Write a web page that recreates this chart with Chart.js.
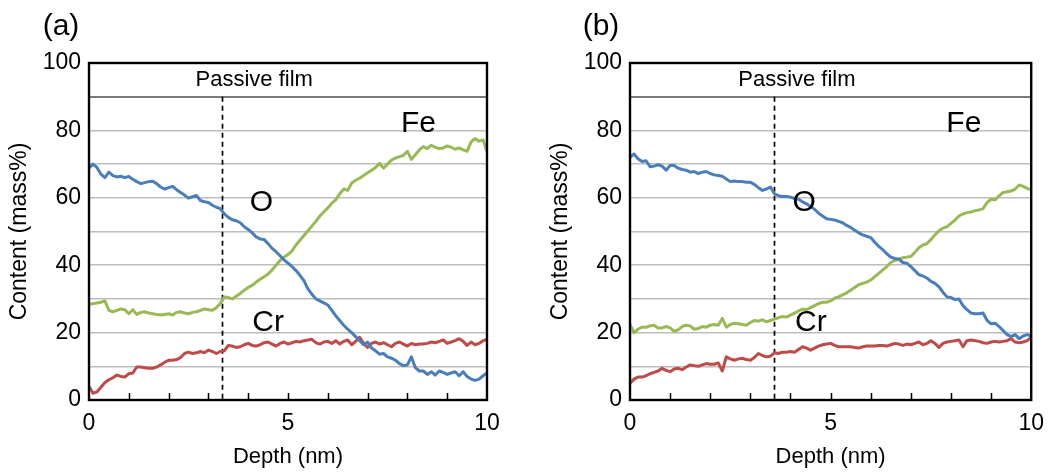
<!DOCTYPE html>
<html><head><meta charset="utf-8">
<script src="https://cdn.jsdelivr.net/npm/chart.js@4.4.1/dist/chart.umd.min.js"></script>
<style>
html,body{margin:0;padding:0;background:#fff;}
#wrap{position:relative;width:1054px;height:474px;overflow:hidden;}
.panel{position:absolute;top:0;width:527px;height:474px;}
#pa{left:0}#pb{left:527px}
</style></head><body>
<div id="wrap">
<div class="panel" id="pa"><canvas id="ca" width="527" height="474"></canvas></div>
<div class="panel" id="pb"><canvas id="cb" width="527" height="474"></canvas></div>
</div>
<script>
// ---- data ----
const depth = [0.0,0.1,0.2,0.3,0.4,0.5,0.6,0.7,0.8,0.9,
1.0,1.1,1.2,1.3,1.4,1.5,1.6,1.7,1.8,1.9,
2.0,2.1,2.2,2.3,2.4,2.5,2.6,2.7,2.8,2.9,
3.0,3.1,3.2,3.3,3.4,3.5,3.6,3.7,3.8,3.9,
4.0,4.1,4.2,4.3,4.4,4.5,4.6,4.7,4.8,4.9,
5.0,5.1,5.2,5.3,5.4,5.5,5.6,5.7,5.8,5.9,
6.0,6.1,6.2,6.3,6.4,6.5,6.6,6.7,6.8,6.9,
7.0,7.1,7.2,7.3,7.4,7.5,7.6,7.7,7.8,7.9,
8.0,8.1,8.2,8.3,8.4,8.5,8.6,8.7,8.8,8.9,
9.0,9.1,9.2,9.3,9.4,9.5,9.6,9.7,9.8,9.9,
10.0];

const oxygenA = [68.8,70.0,69.0,67.0,66.0,67.6,66.6,66.2,66.4,66.0,
66.3,65.5,64.8,64.2,64.5,64.8,64.9,64.2,63.2,62.6,
63.0,63.4,62.4,61.6,60.8,59.9,60.3,60.7,59.2,58.8,
58.6,57.8,57.2,56.8,55.2,54.2,53.5,53.2,52.6,51.4,
50.6,49.6,48.4,47.8,47.6,46.4,45.0,44.0,42.8,41.6,
40.6,39.6,38.4,37.0,35.4,33.0,31.4,30.0,29.4,28.8,
28.2,26.6,25.0,23.6,22.2,21.0,20.0,18.8,17.6,16.4,
17.2,15.4,14.6,13.6,13.8,12.8,12.4,11.8,10.8,10.2,
10.4,12.8,9.6,8.6,8.6,7.6,8.4,7.4,8.6,8.2,
7.6,8.0,8.4,7.2,8.4,7.0,6.2,5.8,6.2,7.2,
8.0];

const ironA = [28.4,28.6,28.8,29.0,29.4,26.6,26.2,26.6,27.0,26.8,
25.6,26.8,25.4,26.0,26.2,25.8,25.6,25.4,25.2,25.4,
25.6,25.2,26.0,26.2,25.8,25.6,26.0,26.2,26.6,27.0,
26.8,26.6,27.4,28.6,30.6,30.4,30.0,30.8,31.6,32.6,
33.4,34.0,35.0,35.8,36.6,37.4,38.6,40.0,41.4,42.4,
43.2,44.2,46.0,47.4,48.8,50.2,51.6,53.0,54.6,55.8,
57.0,58.4,59.4,61.2,62.6,62.2,64.4,65.2,65.8,66.6,
67.4,68.2,69.0,70.2,68.8,70.0,71.2,71.8,72.2,72.6,
73.8,71.4,72.8,74.2,75.2,74.6,75.6,75.0,74.6,74.8,
75.4,75.0,74.4,74.8,74.2,73.8,76.6,77.6,76.8,77.2,
73.8];

const chromiumA = [4.0,2.0,2.4,3.8,5.2,6.0,6.6,7.4,7.0,6.8,
7.8,8.0,9.8,9.8,9.6,9.4,9.4,9.8,10.4,11.2,
11.8,11.8,12.0,12.6,13.8,14.2,13.8,14.0,14.4,14.0,
14.8,14.4,13.8,14.4,14.6,16.2,16.0,15.6,15.8,16.4,
16.8,16.2,16.0,16.4,17.0,17.2,16.6,16.0,16.8,17.2,
16.6,17.0,17.4,17.2,17.6,17.8,18.0,17.0,16.6,17.2,
17.4,16.8,17.6,16.6,17.4,17.8,16.4,17.4,18.6,16.8,
15.6,16.8,17.2,16.6,17.0,16.4,15.8,16.8,17.2,16.6,
16.0,16.8,16.4,16.6,16.6,16.8,17.2,17.0,17.4,17.8,
16.8,17.2,17.6,18.2,17.4,16.2,17.2,16.4,16.8,17.6,
18.0];

const oxygenB = [72.0,73.0,71.6,70.8,71.0,69.2,69.4,69.8,69.4,68.2,
69.6,69.6,68.8,68.4,68.2,67.6,67.8,67.2,67.6,67.8,
67.2,66.8,66.6,66.4,65.6,64.8,65.0,64.8,64.8,64.6,
64.6,64.0,63.0,62.2,62.6,63.2,61.2,60.6,60.4,60.4,
60.2,59.8,59.6,58.8,58.2,57.4,56.6,55.4,54.6,53.8,
53.6,53.4,53.0,52.6,51.8,51.2,50.4,49.6,49.0,48.6,
48.2,46.8,45.6,44.6,43.4,42.4,42.0,41.8,40.8,40.6,
39.6,38.4,37.2,36.8,36.2,35.2,34.6,33.6,32.0,30.6,
30.4,29.8,30.0,28.0,26.8,25.8,25.6,25.6,25.8,23.6,
22.6,22.8,21.8,20.6,19.4,18.8,19.4,18.2,19.0,19.4,
19.0];

const ironB = [22.4,20.0,21.0,21.6,21.6,22.0,22.2,21.4,21.4,21.8,
21.4,20.4,20.8,21.8,22.2,22.0,21.0,21.2,21.8,21.6,
22.2,22.4,22.2,24.2,21.6,22.4,22.8,22.6,22.4,22.2,
23.0,23.6,23.4,23.8,23.2,23.6,24.0,24.4,24.8,24.6,
25.2,25.8,26.4,27.0,26.8,27.4,28.0,28.6,29.0,29.0,
29.4,30.2,30.6,31.2,31.8,32.6,33.4,34.2,34.6,35.0,
35.6,36.6,37.6,38.6,39.6,40.8,41.4,41.8,42.2,42.4,
42.6,43.8,45.2,46.0,46.4,47.6,49.0,50.2,51.0,51.4,
52.4,53.4,54.6,55.2,55.6,55.8,56.2,56.4,56.8,58.6,
59.6,59.4,60.6,61.6,61.8,62.0,62.6,63.8,63.4,62.8,
62.4];

const chromiumB = [5.0,6.2,6.8,6.8,7.2,7.8,8.2,8.6,9.4,8.8,
8.4,9.2,9.4,9.0,9.8,10.4,10.2,10.0,10.4,10.8,
10.6,10.6,11.0,8.6,12.8,12.2,11.8,12.2,12.4,12.0,
11.8,12.6,13.8,13.2,12.8,13.0,14.0,13.8,14.2,14.2,
14.4,14.2,15.0,15.8,15.4,14.8,15.4,16.0,16.4,16.6,
16.8,16.2,15.8,15.8,15.8,15.8,15.6,15.4,15.8,16.0,
16.0,16.0,16.2,16.2,16.0,16.4,16.8,16.6,16.2,16.6,
16.4,16.8,17.2,16.4,16.8,17.6,16.8,15.6,16.8,17.2,
17.4,17.6,17.8,15.8,17.6,17.8,17.6,17.4,17.0,16.8,
17.2,17.4,17.2,17.4,17.6,18.2,17.2,17.0,17.2,17.6,
18.6];

const seriesNames = ['O','Fe','Cr'];
const yTickValues = [0,20,40,60,80,100];
const xTickValues = [0,5,10];
const filmBoundaryA = 3.35;   // nm, dashed line in (a)
const filmBoundaryB = 3.6;    // nm, dashed line in (b)
const filmTopContent = 90;    // mass%, passive-film band line

// ---- styling / layout ----
const FONT = '"Liberation Sans", Arial, Helvetica, sans-serif';
const COLORS = {O:'#4a7ebb', Fe:'#98b954', Cr:'#be4b48'};
Chart.defaults.font.family = FONT;
Chart.defaults.color = '#000';

const labelsA = [
  {text:'Passive film', x:4.15, y:95, size:22},
  {text:'Fe', x:8.28, y:82, size:30},
  {text:'O',  x:4.33, y:58.5, size:30},
  {text:'Cr', x:4.5,  y:23, size:30}
];
const labelsB = [
  {text:'Passive film', x:4.16, y:95, size:22},
  {text:'Fe', x:8.32, y:82, size:30},
  {text:'O',  x:4.34, y:58.5, size:30},
  {text:'Cr', x:4.51, y:23, size:30}
];

const decorPlugin = {
  id: 'decor',
  beforeDatasetsDraw(chart, args, o) {
    const {ctx, scales:{x, y}} = chart;
    ctx.save();
    ctx.strokeStyle = '#000';
    ctx.lineWidth = 1.7;
    ctx.setLineDash([5,4]);
    const px = Math.round(x.getPixelForValue(o.boundary)) + 0.5;
    ctx.beginPath();
    ctx.moveTo(px, y.getPixelForValue(filmTopContent));
    ctx.lineTo(px, y.getPixelForValue(0));
    ctx.stroke();
    ctx.restore();
  },
  afterDatasetsDraw(chart, args, o) {
    const {ctx, chartArea:a, scales:{x, y}} = chart;
    ctx.save();
    ctx.strokeStyle = '#000';
    ctx.lineWidth = 1.5;
    x.ticks.forEach(t => {
      if (t.value > x.min && t.value < x.max) {
        const p = Math.round(x.getPixelForValue(t.value)) + 0.5;
        ctx.beginPath();
        ctx.moveTo(p, a.bottom);
        ctx.lineTo(p, a.bottom - 7);
        ctx.stroke();
      }
    });
    ctx.lineWidth = 2.4;
    ctx.strokeRect(a.left, a.top, a.right - a.left, a.bottom - a.top);
    ctx.fillStyle = '#000';
    ctx.textAlign = 'center';
    ctx.textBaseline = 'middle';
    o.labels.forEach(l => {
      ctx.font = l.size + 'px ' + FONT;
      ctx.fillText(l.text, x.getPixelForValue(l.x), y.getPixelForValue(l.y));
    });
    ctx.font = '30px ' + FONT;
    ctx.fillText(o.tag, o.tagX, o.tagY);
    ctx.restore();
  }
};

function makeChart(canvasId, oVals, feVals, crVals, cfg) {
  const mk = (vals) => depth.map((d, i) => ({x: d, y: vals[i]}));
  const ds = (name, vals) => ({
    label: name, data: mk(vals), borderColor: COLORS[name], backgroundColor: COLORS[name],
    borderWidth: 3, pointRadius: 0, tension: 0, borderJoinStyle: 'round', fill: false
  });
  return new Chart(document.getElementById(canvasId), {
    type: 'line',
    data: { datasets: [ds('O', oVals), ds('Fe', feVals), ds('Cr', crVals)] },
    options: {
      responsive: false, animation: false, devicePixelRatio: 1,
      layout: { padding: {left: cfg.padLeft, right: cfg.padRight, top: 63, bottom: 0} },
      plugins: {
        legend: {display: false}, tooltip: {enabled: false},
        decor: {boundary: cfg.boundary, labels: cfg.labels, tag: cfg.tag, tagX: cfg.tagX, tagY: 27}
      },
      scales: {
        x: {
          type: 'linear', min: 0, max: 10,
          border: {display: false},
          grid: {display: false, drawTicks: false},
          ticks: {
            stepSize: 1, autoSkip: false, maxRotation: 0, padding: 10,
            font: {size: 23},
            callback: v => xTickValues.includes(v) ? String(v) : ''
          },
          title: {display: true, text: 'Depth (nm)', font: {size: 22}, padding: {top: 0, bottom: 4}},
          afterFit: s => { s.height = 74; }
        },
        y: {
          min: 0, max: 100,
          border: {display: false},
          grid: {
            drawTicks: false,
            color: c => (c.tick && c.tick.value === filmTopContent) ? '#7a7a7a' : '#bdbdbd',
            lineWidth: c => (c.tick && c.tick.value === filmTopContent) ? 2 : 1.6
          },
          ticks: {
            stepSize: 10, autoSkip: false, padding: 8,
            font: {size: 23},
            callback: v => yTickValues.includes(v) ? String(v) : ''
          },
          title: {display: true, text: 'Content (mass%)', font: {size: 23}, padding: 0},
          afterFit: s => { s.width = cfg.yWidth; }
        }
      }
    },
    plugins: [decorPlugin]
  });
}

makeChart('ca', oxygenA, ironA, chromiumA,
  {padLeft: 6, padRight: 40, yWidth: 83, boundary: filmBoundaryA, labels: labelsA, tag: '(a)', tagX: 61});
makeChart('cb', oxygenB, ironB, chromiumB,
  {padLeft: 20, padRight: 21, yWidth: 83, boundary: filmBoundaryB, labels: labelsB, tag: '(b)', tagX: 74});
</script>
</body></html>
